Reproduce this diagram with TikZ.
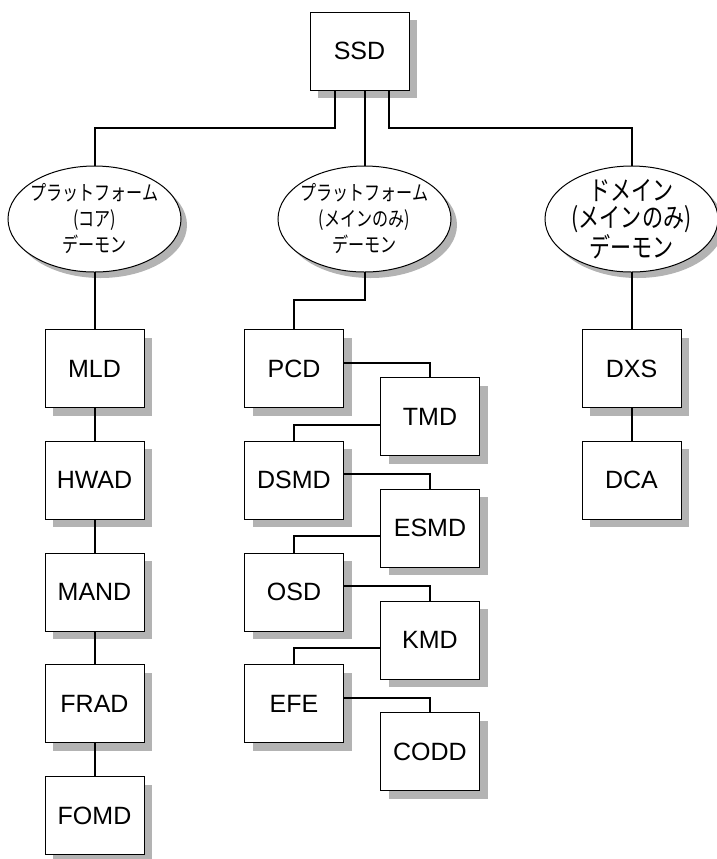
\documentclass[tikz,border=0pt]{standalone}
\usepackage{fontspec}
\setmainfont{Liberation Sans}
\newfontfamily\jpfont[FakeStretch=0.78]{Noto Sans CJK JP}
\usepackage{tikz}
\usetikzlibrary{positioning,shapes.geometric,shadows}
\definecolor{ssdShadow}{HTML}{B3B3B3}
\tikzset{
  daemon/.style={draw, line width=0.5pt, fill=white, minimum width=49.5pt, minimum height=39pt, inner sep=0pt, outer sep=0pt, font=\fontsize{12.5}{15}\selectfont, drop shadow={shadow xshift=4pt, shadow yshift=-4pt, fill=ssdShadow, opacity=1}},
  group/.style={ellipse, draw, line width=0.5pt, fill=white, minimum width=86.5pt, minimum height=53pt, inner xsep=-4pt, inner ysep=-3pt, outer sep=0pt, align=center, font=\jpfont\fontsize{10.3}{13}\selectfont, drop shadow={shadow xshift=3pt, shadow yshift=-3pt, fill=ssdShadow, opacity=1}},
  link/.style={line width=1pt},
}
\begin{document}
\begin{tikzpicture}[x=0.5pt, y=-0.5pt, node distance=16.875pt and 18.5pt]
\useasboundingbox (0,0) rectangle (717,859);
\node[daemon] (ssd) at (359.5,51) {SSD};
\node[group] (core) at (94.5,219) {プラットフォーム\\(コア)\\デーモン};
\node[group] (mainonly) at (364.5,219) {プラットフォーム\\(メインのみ)\\デーモン};
\node[group, font=\jpfont\fontsize{13.5}{13.5}\selectfont] (domain) at (631.5,219) {ドメイン\\(メインのみ)\\デーモン};
% platform (core)
\node[daemon] (mld) at (94.5,368.5) {MLD};
\node[daemon, below=of mld] (hwad) {HWAD};
\node[daemon, below=of hwad] (mand) {MAND};
\node[daemon, below=of mand] (frad) {FRAD};
\node[daemon, below=of frad] (fomd) {FOMD};
% platform (main only)
\node[daemon] (pcd) at (294,368.5) {PCD};
\node[daemon, right=of pcd, yshift=-24pt] (tmd) {TMD};
\node[daemon, below=of pcd] (dsmd) {DSMD};
\node[daemon, below=of tmd] (esmd) {ESMD};
\node[daemon, below=of dsmd] (osd) {OSD};
\node[daemon, below=of esmd] (kmd) {KMD};
\node[daemon, below=of osd] (efe) {EFE};
\node[daemon, below=of kmd] (codd) {CODD};
% domain
\node[daemon] (dxs) at (631.5,368.5) {DXS};
\node[daemon, below=of dxs] (dca) {DCA};
\draw[link] ([xshift=-12.25pt]ssd.south) -- ++(0,-19pt) -| (core.north);
\draw[link] (mainonly.north |- ssd.south) -- (mainonly.north);
\draw[link] ([xshift=14.75pt]ssd.south) -- ++(0,-19pt) -| (domain.north);
\draw[link] (core.south) -- (mld.north);
\draw[link] (mainonly.south) -- ++(0,-14pt) -| (pcd.north);
\draw[link] (domain.south) -- (dxs.north);
\foreach \a/\b in {mld/hwad, hwad/mand, mand/frad, frad/fomd, dxs/dca}
  \draw[link] (\a) -- (\b);
\foreach \a/\b in {pcd/tmd, dsmd/esmd, osd/kmd, efe/codd}
  \draw[link] ([yshift=3pt]\a.east) -| (\b.north);
\foreach \a/\b in {tmd/dsmd, esmd/osd, kmd/efe}
  \draw[link] ([yshift=-4pt]\a.west) -| (\b.north);
\end{tikzpicture}
\end{document}
